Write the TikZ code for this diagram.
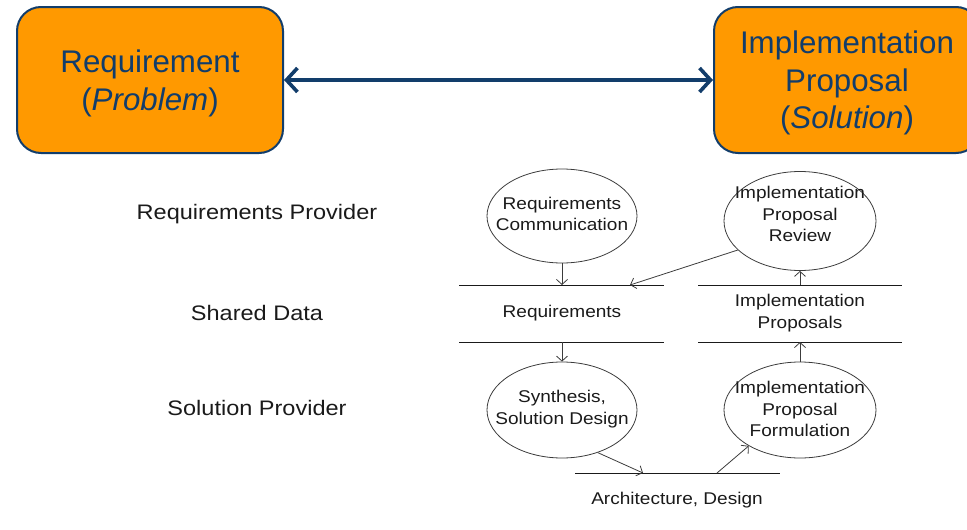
\documentclass[tikz,border=0pt]{standalone}
\usepackage{fontspec}
\setmainfont{Liberation Sans}
\newfontfamily\widesf[FakeStretch=1.12]{Liberation Sans}
\usetikzlibrary{shapes.geometric,arrows.meta}
\definecolor{navy}{HTML}{123D6B}
\definecolor{amber}{HTML}{FF9900}
\definecolor{ink}{HTML}{1A1A1A}
\newcommand{\topstrut}{\rule{0pt}{29pt}}
\begin{document}
\begin{tikzpicture}[x=1pt,y=-1pt,
  bigbox/.style={draw=navy, line width=2pt, fill=amber, rounded corners=24pt,
    text=navy, font=\fontsize{31.3}{37.5}\selectfont, align=center, inner sep=0pt,
    minimum width=266pt, minimum height=146pt},
  rolelabel/.style={font=\widesf\fontsize{21}{24}\selectfont, text=ink, inner sep=0pt},
  smalltext/.style={font=\widesf\fontsize{17}{21.5}\selectfont, align=center, text=ink, inner sep=0pt},
  process/.style={ellipse, draw=ink!85, line width=0.8pt, inner sep=0pt,
    minimum width=150pt, minimum height=94pt},
  storeline/.style={draw=ink, line width=0.9pt},
  flow/.style={draw=ink!85, line width=0.8pt, -{Straight Barb[length=5pt,width=11pt]}},
  link/.style={draw=navy, line width=3.6pt, {Straight Barb[length=11pt,width=24pt]}-{Straight Barb[length=11pt,width=24pt]}}
]
\useasboundingbox (0,0) rectangle (967,530);

% top: problem and solution boxes
\node[bigbox] (req) at (150,80) {\topstrut Requirement\\(\textit{Problem})};
\node[bigbox] (impl) at (847,80) {\topstrut Implementation\\Proposal\\(\textit{Solution})};
\draw[link] (req.east) -- (impl.west);

% role labels
\node[rolelabel] (rp) at (257,214) {Requirements Provider};
\node[rolelabel] (sd) at (257,313) {Shared Data};
\node[rolelabel] (sp) at (257,408) {Solution Provider};

% processes (fixed-size ellipses, text laid on top)
\node[process] (rc) at (562,216) {};
\node[smalltext] (rct) at (562,214) {Requirements\\Communication};
\node[process, minimum width=152pt, minimum height=99pt] (ipr) at (800,221) {};
\node[smalltext] (iprt) at (800,214) {Implementation\\Proposal\\Review};
\node[process, minimum height=96pt] (ssd) at (562,410) {};
\node[smalltext] (ssdt) at (562,409) {Synthesis,\\Solution Design};
\node[process, minimum width=152pt, minimum height=96pt] (ipf) at (800,410) {};
\node[smalltext] (ipft) at (800,409) {Implementation\\Proposal\\Formulation};

% data stores
\coordinate (rqTL) at (459,285); \coordinate (rqTR) at (664,285);
\coordinate (rqBL) at (459,342); \coordinate (rqBR) at (664,342);
\coordinate (ipTL) at (698,285); \coordinate (ipTR) at (902,285);
\coordinate (ipBL) at (698,342); \coordinate (ipBR) at (902,342);
\coordinate (adL) at (575,473);  \coordinate (adR) at (780,473);
\draw[storeline] (rqTL) -- (rqTR);
\draw[storeline] (rqBL) -- (rqBR);
\draw[storeline] (ipTL) -- (ipTR);
\draw[storeline] (ipBL) -- (ipBR);
\draw[storeline] (adL) -- (adR);
\node[smalltext] (rqs) at (562,313) {Requirements};
\node[smalltext] (ips) at (800,313) {Implementation\\Proposals};
\node[smalltext] (ads) at (677,500) {Architecture, Design};

% flow endpoints on the stores
\coordinate (rqIn)   at (562,285);
\coordinate (rqIn2)  at (630,285);
\coordinate (rqOut)  at (562,342);
\coordinate (ipOut)  at (800,285);
\coordinate (ipIn)   at (800,342);
\coordinate (adIn)   at (643,473);
\coordinate (adOut)  at (717,473);

% flows
\draw[flow] (rc.south) -- (rqIn);
\draw[flow] (ipr.-155) -- (rqIn2);
\draw[flow] (ipOut) -- (ipr.south);
\draw[flow] (rqOut) -- (ssd.north);
\draw[flow] (ipf.north) -- (ipIn);
\draw[flow] (ssd.-50) -- (adIn);
\draw[flow] (adOut) -- (ipf.-145);
\end{tikzpicture}
\end{document}
